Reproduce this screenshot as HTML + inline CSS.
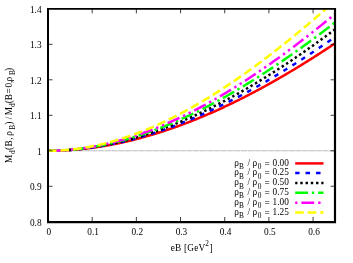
<!DOCTYPE html>
<html><head><meta charset="utf-8"><title>plot</title>
<style>
html,body{margin:0;padding:0;background:#fff;}
body{width:353px;height:263px;overflow:hidden;position:relative;font-family:"Liberation Serif",serif;}
svg{display:block;position:absolute;left:0;top:0;filter:blur(0.35px);}
.t{font-family:"Liberation Serif",serif;font-size:9.3px;fill:#000;}
</style></head><body>
<svg width="353" height="263" viewBox="0 0 353 263">
<rect width="353" height="263" fill="#fff"/>
<clipPath id="c"><rect x="48.0" y="8.83" width="286.9" height="212.94"/></clipPath>
<line x1="48.0" y1="150.79" x2="334.9" y2="150.79" stroke="#969696" stroke-width="0.65" stroke-dasharray="6.3 0.5" stroke-dashoffset="4.4"/>
<g clip-path="url(#c)" fill="none" stroke-linejoin="round" stroke-width="2.5">
<path d="M48.00,150.79L49.10,150.79L50.21,150.78L51.31,150.77L52.42,150.76L53.52,150.74L54.63,150.72L55.73,150.70L56.84,150.67L57.94,150.63L59.05,150.60L60.15,150.56L61.25,150.51L62.36,150.47L63.46,150.42L64.57,150.36L65.67,150.30L66.78,150.24L67.88,150.17L68.99,150.10L70.09,150.03L71.19,149.95L72.30,149.87L73.40,149.79L74.51,149.70L75.61,149.60L76.72,149.51L77.82,149.41L78.93,149.31L80.03,149.20L81.13,149.09L82.24,148.97L83.34,148.86L84.45,148.74L85.55,148.61L86.66,148.48L87.76,148.35L88.87,148.21L89.97,148.08L91.08,147.93L92.18,147.79L93.28,147.64L94.39,147.48L95.49,147.33L96.60,147.17L97.70,147.00L98.81,146.83L99.91,146.66L101.02,146.49L102.12,146.31L103.22,146.13L104.33,145.94L105.43,145.76L106.54,145.56L107.64,145.37L108.75,145.17L109.85,144.97L110.96,144.76L112.06,144.55L113.17,144.34L114.27,144.12L115.37,143.91L116.48,143.68L117.58,143.46L118.69,143.23L119.79,143.00L120.90,142.76L122.00,142.52L123.11,142.28L124.21,142.03L125.31,141.78L126.42,141.53L127.52,141.27L128.63,141.01L129.73,140.75L130.84,140.49L131.94,140.22L133.05,139.94L134.15,139.67L135.26,139.39L136.36,139.11L137.46,138.82L138.57,138.53L139.67,138.24L140.78,137.95L141.88,137.65L142.99,137.35L144.09,137.04L145.20,136.74L146.30,136.42L147.41,136.11L148.51,135.79L149.61,135.47L150.72,135.15L151.82,134.82L152.93,134.49L154.03,134.16L155.14,133.82L156.24,133.49L157.35,133.14L158.45,132.80L159.55,132.45L160.66,132.10L161.76,131.74L162.87,131.39L163.97,131.03L165.08,130.66L166.18,130.30L167.29,129.93L168.39,129.55L169.50,129.18L170.60,128.80L171.70,128.42L172.81,128.03L173.91,127.65L175.02,127.25L176.12,126.86L177.23,126.46L178.33,126.07L179.44,125.66L180.54,125.26L181.64,124.85L182.75,124.44L183.85,124.02L184.96,123.61L186.06,123.19L187.17,122.77L188.27,122.34L189.38,121.91L190.48,121.48L191.59,121.05L192.69,120.61L193.79,120.17L194.90,119.73L196.00,119.28L197.11,118.83L198.21,118.38L199.32,117.93L200.42,117.47L201.53,117.01L202.63,116.55L203.73,116.09L204.84,115.62L205.94,115.15L207.05,114.67L208.15,114.20L209.26,113.72L210.36,113.24L211.47,112.75L212.57,112.27L213.68,111.78L214.78,111.29L215.88,110.79L216.99,110.29L218.09,109.79L219.20,109.29L220.30,108.78L221.41,108.28L222.51,107.77L223.62,107.25L224.72,106.74L225.82,106.22L226.93,105.70L228.03,105.17L229.14,104.65L230.24,104.12L231.35,103.59L232.45,103.05L233.56,102.52L234.66,101.98L235.76,101.44L236.87,100.89L237.97,100.34L239.08,99.80L240.18,99.24L241.29,98.69L242.39,98.13L243.50,97.57L244.60,97.01L245.71,96.45L246.81,95.88L247.91,95.31L249.02,94.74L250.12,94.17L251.23,93.59L252.33,93.01L253.44,92.43L254.54,91.85L255.65,91.26L256.75,90.67L257.86,90.08L258.96,89.49L260.06,88.89L261.17,88.30L262.27,87.70L263.38,87.09L264.48,86.49L265.59,85.88L266.69,85.27L267.80,84.66L268.90,84.05L270.00,83.43L271.11,82.81L272.21,82.19L273.32,81.57L274.42,80.94L275.53,80.31L276.63,79.68L277.74,79.05L278.84,78.42L279.95,77.78L281.05,77.14L282.15,76.50L283.26,75.86L284.36,75.21L285.47,74.57L286.57,73.92L287.68,73.26L288.78,72.61L289.89,71.95L290.99,71.29L292.09,70.63L293.20,69.97L294.30,69.31L295.41,68.64L296.51,67.97L297.62,67.30L298.72,66.63L299.83,65.95L300.93,65.27L302.03,64.59L303.14,63.91L304.24,63.23L305.35,62.54L306.45,61.86L307.56,61.17L308.66,60.47L309.77,59.78L310.87,59.09L311.98,58.39L313.08,57.69L314.18,56.99L315.29,56.28L316.39,55.58L317.50,54.87L318.60,54.16L319.71,53.45L320.81,52.74L321.92,52.02L323.02,51.30L324.12,50.58L325.23,49.86L326.33,49.14L327.44,48.42L328.54,47.69L329.65,46.96L330.75,46.23L331.86,45.50L332.96,44.76L334.07,44.03L335.17,43.29" stroke="#ff0000"/>
<path d="M48.00,150.79L49.10,150.79L50.21,150.78L51.31,150.77L52.42,150.76L53.52,150.74L54.63,150.72L55.73,150.69L56.84,150.66L57.94,150.62L59.05,150.58L60.15,150.54L61.25,150.49L62.36,150.44L63.46,150.39L64.57,150.33L65.67,150.27L66.78,150.20L67.88,150.13L68.99,150.05L70.09,149.97L71.19,149.89L72.30,149.80L73.40,149.71L74.51,149.62L75.61,149.52L76.72,149.41L77.82,149.31L78.93,149.20L80.03,149.08L81.13,148.96L82.24,148.84L83.34,148.72L84.45,148.59L85.55,148.45L86.66,148.31L87.76,148.17L88.87,148.03L89.97,147.88L91.08,147.72L92.18,147.57L93.28,147.41L94.39,147.24L95.49,147.07L96.60,146.90L97.70,146.73L98.81,146.55L99.91,146.36L101.02,146.18L102.12,145.99L103.22,145.79L104.33,145.59L105.43,145.39L106.54,145.19L107.64,144.98L108.75,144.76L109.85,144.55L110.96,144.33L112.06,144.10L113.17,143.88L114.27,143.65L115.37,143.41L116.48,143.17L117.58,142.93L118.69,142.69L119.79,142.44L120.90,142.18L122.00,141.93L123.11,141.67L124.21,141.41L125.31,141.14L126.42,140.87L127.52,140.60L128.63,140.32L129.73,140.04L130.84,139.75L131.94,139.47L133.05,139.17L134.15,138.88L135.26,138.58L136.36,138.28L137.46,137.98L138.57,137.67L139.67,137.36L140.78,137.04L141.88,136.72L142.99,136.40L144.09,136.07L145.20,135.75L146.30,135.41L147.41,135.08L148.51,134.74L149.61,134.40L150.72,134.05L151.82,133.70L152.93,133.35L154.03,133.00L155.14,132.64L156.24,132.28L157.35,131.91L158.45,131.54L159.55,131.17L160.66,130.80L161.76,130.42L162.87,130.04L163.97,129.65L165.08,129.26L166.18,128.87L167.29,128.48L168.39,128.08L169.50,127.68L170.60,127.28L171.70,126.87L172.81,126.46L173.91,126.05L175.02,125.63L176.12,125.21L177.23,124.79L178.33,124.36L179.44,123.93L180.54,123.50L181.64,123.07L182.75,122.63L183.85,122.19L184.96,121.75L186.06,121.30L187.17,120.85L188.27,120.39L189.38,119.94L190.48,119.48L191.59,119.02L192.69,118.55L193.79,118.08L194.90,117.61L196.00,117.14L197.11,116.66L198.21,116.18L199.32,115.70L200.42,115.21L201.53,114.73L202.63,114.23L203.73,113.74L204.84,113.24L205.94,112.74L207.05,112.24L208.15,111.73L209.26,111.22L210.36,110.71L211.47,110.20L212.57,109.68L213.68,109.16L214.78,108.64L215.88,108.11L216.99,107.58L218.09,107.05L219.20,106.52L220.30,105.98L221.41,105.44L222.51,104.90L223.62,104.35L224.72,103.81L225.82,103.26L226.93,102.70L228.03,102.15L229.14,101.59L230.24,101.03L231.35,100.46L232.45,99.90L233.56,99.33L234.66,98.76L235.76,98.18L236.87,97.60L237.97,97.02L239.08,96.44L240.18,95.86L241.29,95.27L242.39,94.68L243.50,94.09L244.60,93.49L245.71,92.89L246.81,92.29L247.91,91.69L249.02,91.09L250.12,90.48L251.23,89.87L252.33,89.25L253.44,88.64L254.54,88.02L255.65,87.40L256.75,86.78L257.86,86.15L258.96,85.52L260.06,84.89L261.17,84.26L262.27,83.63L263.38,82.99L264.48,82.35L265.59,81.71L266.69,81.06L267.80,80.42L268.90,79.77L270.00,79.11L271.11,78.46L272.21,77.80L273.32,77.14L274.42,76.48L275.53,75.82L276.63,75.15L277.74,74.49L278.84,73.82L279.95,73.14L281.05,72.47L282.15,71.79L283.26,71.11L284.36,70.43L285.47,69.75L286.57,69.06L287.68,68.37L288.78,67.68L289.89,66.99L290.99,66.29L292.09,65.60L293.20,64.90L294.30,64.20L295.41,63.49L296.51,62.79L297.62,62.08L298.72,61.37L299.83,60.66L300.93,59.94L302.03,59.23L303.14,58.51L304.24,57.79L305.35,57.07L306.45,56.34L307.56,55.62L308.66,54.89L309.77,54.16L310.87,53.42L311.98,52.69L313.08,51.95L314.18,51.21L315.29,50.47L316.39,49.73L317.50,48.98L318.60,48.24L319.71,47.49L320.81,46.74L321.92,45.99L323.02,45.23L324.12,44.48L325.23,43.72L326.33,42.96L327.44,42.20L328.54,41.43L329.65,40.67L330.75,39.90L331.86,39.13L332.96,38.36L334.07,37.58L335.17,36.81" stroke="#0000ff" stroke-dasharray="4.5 6.0" stroke-dashoffset="0.15"/>
<path d="M48.00,150.79L49.10,150.79L50.21,150.78L51.31,150.77L52.42,150.75L53.52,150.74L54.63,150.71L55.73,150.68L56.84,150.65L57.94,150.61L59.05,150.57L60.15,150.53L61.25,150.48L62.36,150.42L63.46,150.36L64.57,150.30L65.67,150.23L66.78,150.16L67.88,150.09L68.99,150.01L70.09,149.92L71.19,149.83L72.30,149.74L73.40,149.64L74.51,149.54L75.61,149.44L76.72,149.33L77.82,149.21L78.93,149.10L80.03,148.98L81.13,148.85L82.24,148.72L83.34,148.59L84.45,148.45L85.55,148.30L86.66,148.16L87.76,148.01L88.87,147.85L89.97,147.69L91.08,147.53L92.18,147.37L93.28,147.19L94.39,147.02L95.49,146.84L96.60,146.66L97.70,146.47L98.81,146.28L99.91,146.09L101.02,145.89L102.12,145.68L103.22,145.48L104.33,145.27L105.43,145.05L106.54,144.83L107.64,144.61L108.75,144.39L109.85,144.16L110.96,143.92L112.06,143.68L113.17,143.44L114.27,143.20L115.37,142.95L116.48,142.69L117.58,142.44L118.69,142.18L119.79,141.91L120.90,141.64L122.00,141.37L123.11,141.09L124.21,140.81L125.31,140.53L126.42,140.24L127.52,139.95L128.63,139.66L129.73,139.36L130.84,139.06L131.94,138.75L133.05,138.44L134.15,138.13L135.26,137.81L136.36,137.49L137.46,137.17L138.57,136.84L139.67,136.51L140.78,136.17L141.88,135.83L142.99,135.49L144.09,135.14L145.20,134.79L146.30,134.44L147.41,134.08L148.51,133.72L149.61,133.36L150.72,132.99L151.82,132.62L152.93,132.25L154.03,131.87L155.14,131.49L156.24,131.10L157.35,130.71L158.45,130.32L159.55,129.93L160.66,129.53L161.76,129.12L162.87,128.72L163.97,128.31L165.08,127.90L166.18,127.48L167.29,127.06L168.39,126.64L169.50,126.21L170.60,125.78L171.70,125.35L172.81,124.91L173.91,124.47L175.02,124.03L176.12,123.58L177.23,123.13L178.33,122.68L179.44,122.22L180.54,121.76L181.64,121.30L182.75,120.83L183.85,120.36L184.96,119.89L186.06,119.41L187.17,118.94L188.27,118.45L189.38,117.97L190.48,117.48L191.59,116.99L192.69,116.49L193.79,115.99L194.90,115.49L196.00,114.99L197.11,114.48L198.21,113.97L199.32,113.45L200.42,112.93L201.53,112.41L202.63,111.89L203.73,111.36L204.84,110.83L205.94,110.30L207.05,109.76L208.15,109.23L209.26,108.68L210.36,108.14L211.47,107.59L212.57,107.04L213.68,106.48L214.78,105.93L215.88,105.37L216.99,104.80L218.09,104.24L219.20,103.67L220.30,103.10L221.41,102.52L222.51,101.94L223.62,101.36L224.72,100.78L225.82,100.19L226.93,99.60L228.03,99.01L229.14,98.41L230.24,97.82L231.35,97.22L232.45,96.61L233.56,96.00L234.66,95.39L235.76,94.78L236.87,94.17L237.97,93.55L239.08,92.93L240.18,92.30L241.29,91.68L242.39,91.05L243.50,90.42L244.60,89.78L245.71,89.14L246.81,88.50L247.91,87.86L249.02,87.22L250.12,86.57L251.23,85.92L252.33,85.26L253.44,84.61L254.54,83.95L255.65,83.28L256.75,82.62L257.86,81.95L258.96,81.28L260.06,80.61L261.17,79.94L262.27,79.26L263.38,78.58L264.48,77.90L265.59,77.21L266.69,76.52L267.80,75.83L268.90,75.14L270.00,74.44L271.11,73.75L272.21,73.04L273.32,72.34L274.42,71.64L275.53,70.93L276.63,70.22L277.74,69.50L278.84,68.79L279.95,68.07L281.05,67.35L282.15,66.63L283.26,65.90L284.36,65.17L285.47,64.44L286.57,63.71L287.68,62.98L288.78,62.24L289.89,61.50L290.99,60.76L292.09,60.01L293.20,59.27L294.30,58.52L295.41,57.77L296.51,57.01L297.62,56.26L298.72,55.50L299.83,54.74L300.93,53.98L302.03,53.21L303.14,52.44L304.24,51.67L305.35,50.90L306.45,50.13L307.56,49.35L308.66,48.57L309.77,47.79L310.87,47.01L311.98,46.23L313.08,45.44L314.18,44.65L315.29,43.86L316.39,43.06L317.50,42.27L318.60,41.47L319.71,40.67L320.81,39.87L321.92,39.06L323.02,38.26L324.12,37.45L325.23,36.64L326.33,35.83L327.44,35.01L328.54,34.19L329.65,33.38L330.75,32.56L331.86,31.73L332.96,30.91L334.07,30.08L335.17,29.25" stroke="#000000" stroke-dasharray="2.4 2.85" stroke-dashoffset="0.15"/>
<path d="M48.00,150.79L49.10,150.79L50.21,150.78L51.31,150.77L52.42,150.75L53.52,150.73L54.63,150.70L55.73,150.67L56.84,150.64L57.94,150.60L59.05,150.55L60.15,150.50L61.25,150.45L62.36,150.39L63.46,150.32L64.57,150.25L65.67,150.18L66.78,150.10L67.88,150.02L68.99,149.93L70.09,149.84L71.19,149.74L72.30,149.64L73.40,149.54L74.51,149.43L75.61,149.31L76.72,149.19L77.82,149.07L78.93,148.94L80.03,148.81L81.13,148.67L82.24,148.53L83.34,148.38L84.45,148.23L85.55,148.08L86.66,147.92L87.76,147.75L88.87,147.59L89.97,147.41L91.08,147.24L92.18,147.06L93.28,146.87L94.39,146.68L95.49,146.48L96.60,146.29L97.70,146.08L98.81,145.88L99.91,145.66L101.02,145.45L102.12,145.23L103.22,145.00L104.33,144.77L105.43,144.54L106.54,144.30L107.64,144.06L108.75,143.82L109.85,143.57L110.96,143.31L112.06,143.06L113.17,142.79L114.27,142.53L115.37,142.26L116.48,141.98L117.58,141.71L118.69,141.42L119.79,141.14L120.90,140.85L122.00,140.55L123.11,140.25L124.21,139.95L125.31,139.64L126.42,139.33L127.52,139.02L128.63,138.70L129.73,138.37L130.84,138.05L131.94,137.72L133.05,137.38L134.15,137.04L135.26,136.70L136.36,136.36L137.46,136.01L138.57,135.65L139.67,135.29L140.78,134.93L141.88,134.57L142.99,134.20L144.09,133.82L145.20,133.45L146.30,133.07L147.41,132.68L148.51,132.29L149.61,131.90L150.72,131.51L151.82,131.11L152.93,130.70L154.03,130.30L155.14,129.88L156.24,129.47L157.35,129.05L158.45,128.63L159.55,128.21L160.66,127.78L161.76,127.34L162.87,126.91L163.97,126.47L165.08,126.03L166.18,125.58L167.29,125.13L168.39,124.67L169.50,124.22L170.60,123.76L171.70,123.29L172.81,122.82L173.91,122.35L175.02,121.88L176.12,121.40L177.23,120.92L178.33,120.43L179.44,119.94L180.54,119.45L181.64,118.95L182.75,118.45L183.85,117.95L184.96,117.45L186.06,116.94L187.17,116.43L188.27,115.91L189.38,115.39L190.48,114.87L191.59,114.34L192.69,113.81L193.79,113.28L194.90,112.75L196.00,112.21L197.11,111.66L198.21,111.12L199.32,110.57L200.42,110.02L201.53,109.46L202.63,108.91L203.73,108.34L204.84,107.78L205.94,107.21L207.05,106.64L208.15,106.07L209.26,105.49L210.36,104.91L211.47,104.33L212.57,103.74L213.68,103.15L214.78,102.56L215.88,101.97L216.99,101.37L218.09,100.77L219.20,100.16L220.30,99.55L221.41,98.94L222.51,98.33L223.62,97.71L224.72,97.10L225.82,96.47L226.93,95.85L228.03,95.22L229.14,94.59L230.24,93.96L231.35,93.32L232.45,92.68L233.56,92.04L234.66,91.39L235.76,90.74L236.87,90.09L237.97,89.44L239.08,88.78L240.18,88.12L241.29,87.46L242.39,86.80L243.50,86.13L244.60,85.46L245.71,84.79L246.81,84.11L247.91,83.43L249.02,82.75L250.12,82.07L251.23,81.38L252.33,80.69L253.44,80.00L254.54,79.31L255.65,78.61L256.75,77.91L257.86,77.21L258.96,76.51L260.06,75.80L261.17,75.09L262.27,74.38L263.38,73.66L264.48,72.94L265.59,72.22L266.69,71.50L267.80,70.78L268.90,70.05L270.00,69.32L271.11,68.59L272.21,67.85L273.32,67.12L274.42,66.38L275.53,65.64L276.63,64.89L277.74,64.15L278.84,63.40L279.95,62.65L281.05,61.89L282.15,61.14L283.26,60.38L284.36,59.62L285.47,58.85L286.57,58.09L287.68,57.32L288.78,56.55L289.89,55.78L290.99,55.01L292.09,54.23L293.20,53.45L294.30,52.67L295.41,51.89L296.51,51.10L297.62,50.32L298.72,49.53L299.83,48.73L300.93,47.94L302.03,47.14L303.14,46.35L304.24,45.55L305.35,44.74L306.45,43.94L307.56,43.13L308.66,42.33L309.77,41.52L310.87,40.70L311.98,39.89L313.08,39.07L314.18,38.25L315.29,37.43L316.39,36.61L317.50,35.79L318.60,34.96L319.71,34.13L320.81,33.30L321.92,32.47L323.02,31.64L324.12,30.80L325.23,29.97L326.33,29.13L327.44,28.29L328.54,27.44L329.65,26.60L330.75,25.75L331.86,24.90L332.96,24.05L334.07,23.20L335.17,22.35" stroke="#00ff00" stroke-dasharray="12.9 3.9 2.4 3.9" stroke-dashoffset="0.15"/>
<path d="M48.00,150.79L49.10,150.79L50.21,150.78L51.31,150.77L52.42,150.75L53.52,150.73L54.63,150.70L55.73,150.66L56.84,150.63L57.94,150.58L59.05,150.53L60.15,150.48L61.25,150.42L62.36,150.36L63.46,150.29L64.57,150.22L65.67,150.14L66.78,150.06L67.88,149.97L68.99,149.87L70.09,149.78L71.19,149.67L72.30,149.57L73.40,149.45L74.51,149.34L75.61,149.21L76.72,149.09L77.82,148.95L78.93,148.82L80.03,148.68L81.13,148.53L82.24,148.38L83.34,148.22L84.45,148.06L85.55,147.90L86.66,147.73L87.76,147.55L88.87,147.37L89.97,147.19L91.08,147.00L92.18,146.80L93.28,146.61L94.39,146.40L95.49,146.20L96.60,145.98L97.70,145.77L98.81,145.55L99.91,145.32L101.02,145.09L102.12,144.85L103.22,144.61L104.33,144.37L105.43,144.12L106.54,143.87L107.64,143.61L108.75,143.35L109.85,143.08L110.96,142.81L112.06,142.54L113.17,142.26L114.27,141.97L115.37,141.69L116.48,141.39L117.58,141.10L118.69,140.79L119.79,140.49L120.90,140.18L122.00,139.86L123.11,139.54L124.21,139.22L125.31,138.89L126.42,138.56L127.52,138.23L128.63,137.89L129.73,137.54L130.84,137.19L131.94,136.84L133.05,136.48L134.15,136.12L135.26,135.76L136.36,135.39L137.46,135.02L138.57,134.64L139.67,134.26L140.78,133.87L141.88,133.48L142.99,133.09L144.09,132.69L145.20,132.29L146.30,131.88L147.41,131.47L148.51,131.06L149.61,130.64L150.72,130.22L151.82,129.79L152.93,129.36L154.03,128.93L155.14,128.49L156.24,128.05L157.35,127.60L158.45,127.15L159.55,126.70L160.66,126.24L161.76,125.78L162.87,125.31L163.97,124.84L165.08,124.37L166.18,123.90L167.29,123.41L168.39,122.93L169.50,122.44L170.60,121.95L171.70,121.46L172.81,120.96L173.91,120.45L175.02,119.95L176.12,119.44L177.23,118.92L178.33,118.41L179.44,117.89L180.54,117.36L181.64,116.83L182.75,116.30L183.85,115.76L184.96,115.23L186.06,114.68L187.17,114.14L188.27,113.59L189.38,113.03L190.48,112.48L191.59,111.92L192.69,111.35L193.79,110.78L194.90,110.21L196.00,109.64L197.11,109.06L198.21,108.48L199.32,107.90L200.42,107.31L201.53,106.72L202.63,106.12L203.73,105.52L204.84,104.92L205.94,104.32L207.05,103.71L208.15,103.10L209.26,102.48L210.36,101.86L211.47,101.24L212.57,100.62L213.68,99.99L214.78,99.36L215.88,98.72L216.99,98.09L218.09,97.45L219.20,96.80L220.30,96.15L221.41,95.50L222.51,94.85L223.62,94.19L224.72,93.53L225.82,92.87L226.93,92.21L228.03,91.54L229.14,90.86L230.24,90.19L231.35,89.51L232.45,88.83L233.56,88.15L234.66,87.46L235.76,86.77L236.87,86.07L237.97,85.38L239.08,84.68L240.18,83.98L241.29,83.27L242.39,82.56L243.50,81.85L244.60,81.14L245.71,80.42L246.81,79.70L247.91,78.98L249.02,78.25L250.12,77.53L251.23,76.80L252.33,76.06L253.44,75.33L254.54,74.59L255.65,73.84L256.75,73.10L257.86,72.35L258.96,71.60L260.06,70.85L261.17,70.09L262.27,69.33L263.38,68.57L264.48,67.81L265.59,67.04L266.69,66.27L267.80,65.50L268.90,64.73L270.00,63.95L271.11,63.17L272.21,62.39L273.32,61.60L274.42,60.82L275.53,60.03L276.63,59.23L277.74,58.44L278.84,57.64L279.95,56.84L281.05,56.04L282.15,55.23L283.26,54.43L284.36,53.62L285.47,52.81L286.57,51.99L287.68,51.17L288.78,50.36L289.89,49.53L290.99,48.71L292.09,47.88L293.20,47.05L294.30,46.22L295.41,45.39L296.51,44.55L297.62,43.72L298.72,42.88L299.83,42.03L300.93,41.19L302.03,40.34L303.14,39.49L304.24,38.64L305.35,37.79L306.45,36.93L307.56,36.07L308.66,35.21L309.77,34.35L310.87,33.49L311.98,32.62L313.08,31.75L314.18,30.88L315.29,30.01L316.39,29.13L317.50,28.26L318.60,27.38L319.71,26.50L320.81,25.61L321.92,24.73L323.02,23.84L324.12,22.95L325.23,22.06L326.33,21.17L327.44,20.27L328.54,19.38L329.65,18.48L330.75,17.58L331.86,16.68L332.96,15.77L334.07,14.87L335.17,13.96" stroke="#ff00ff" stroke-dasharray="2.4 3.9 12.9 3.9 2.4 3.9" stroke-dashoffset="0.15"/>
<path d="M48.00,150.79L49.10,150.79L50.21,150.78L51.31,150.76L52.42,150.74L53.52,150.72L54.63,150.69L55.73,150.65L56.84,150.61L57.94,150.56L59.05,150.50L60.15,150.44L61.25,150.38L62.36,150.31L63.46,150.23L64.57,150.15L65.67,150.06L66.78,149.97L67.88,149.87L68.99,149.76L70.09,149.65L71.19,149.54L72.30,149.42L73.40,149.29L74.51,149.16L75.61,149.02L76.72,148.88L77.82,148.73L78.93,148.58L80.03,148.42L81.13,148.25L82.24,148.08L83.34,147.91L84.45,147.73L85.55,147.54L86.66,147.35L87.76,147.16L88.87,146.96L89.97,146.75L91.08,146.54L92.18,146.32L93.28,146.10L94.39,145.87L95.49,145.64L96.60,145.40L97.70,145.16L98.81,144.91L99.91,144.66L101.02,144.40L102.12,144.14L103.22,143.87L104.33,143.60L105.43,143.32L106.54,143.04L107.64,142.75L108.75,142.46L109.85,142.16L110.96,141.86L112.06,141.55L113.17,141.24L114.27,140.93L115.37,140.60L116.48,140.28L117.58,139.95L118.69,139.61L119.79,139.27L120.90,138.92L122.00,138.57L123.11,138.22L124.21,137.86L125.31,137.49L126.42,137.12L127.52,136.75L128.63,136.37L129.73,135.99L130.84,135.60L131.94,135.20L133.05,134.81L134.15,134.40L135.26,134.00L136.36,133.59L137.46,133.17L138.57,132.75L139.67,132.33L140.78,131.90L141.88,131.46L142.99,131.03L144.09,130.58L145.20,130.14L146.30,129.69L147.41,129.23L148.51,128.77L149.61,128.30L150.72,127.84L151.82,127.36L152.93,126.89L154.03,126.40L155.14,125.92L156.24,125.43L157.35,124.93L158.45,124.43L159.55,123.93L160.66,123.42L161.76,122.91L162.87,122.40L163.97,121.88L165.08,121.35L166.18,120.82L167.29,120.29L168.39,119.75L169.50,119.21L170.60,118.67L171.70,118.12L172.81,117.57L173.91,117.01L175.02,116.45L176.12,115.89L177.23,115.32L178.33,114.75L179.44,114.17L180.54,113.59L181.64,113.00L182.75,112.42L183.85,111.82L184.96,111.23L186.06,110.63L187.17,110.02L188.27,109.42L189.38,108.81L190.48,108.19L191.59,107.57L192.69,106.95L193.79,106.32L194.90,105.69L196.00,105.06L197.11,104.42L198.21,103.78L199.32,103.13L200.42,102.49L201.53,101.83L202.63,101.18L203.73,100.52L204.84,99.86L205.94,99.19L207.05,98.52L208.15,97.85L209.26,97.17L210.36,96.49L211.47,95.80L212.57,95.12L213.68,94.43L214.78,93.73L215.88,93.03L216.99,92.33L218.09,91.63L219.20,90.92L220.30,90.21L221.41,89.49L222.51,88.77L223.62,88.05L224.72,87.33L225.82,86.60L226.93,85.87L228.03,85.13L229.14,84.40L230.24,83.66L231.35,82.91L232.45,82.16L233.56,81.41L234.66,80.66L235.76,79.90L236.87,79.14L237.97,78.38L239.08,77.61L240.18,76.84L241.29,76.07L242.39,75.30L243.50,74.52L244.60,73.74L245.71,72.95L246.81,72.16L247.91,71.37L249.02,70.58L250.12,69.78L251.23,68.98L252.33,68.18L253.44,67.38L254.54,66.57L255.65,65.76L256.75,64.94L257.86,64.13L258.96,63.31L260.06,62.49L261.17,61.66L262.27,60.83L263.38,60.00L264.48,59.17L265.59,58.33L266.69,57.50L267.80,56.65L268.90,55.81L270.00,54.96L271.11,54.11L272.21,53.26L273.32,52.41L274.42,51.55L275.53,50.69L276.63,49.83L277.74,48.96L278.84,48.10L279.95,47.23L281.05,46.35L282.15,45.48L283.26,44.60L284.36,43.72L285.47,42.84L286.57,41.95L287.68,41.07L288.78,40.18L289.89,39.29L290.99,38.39L292.09,37.50L293.20,36.60L294.30,35.70L295.41,34.79L296.51,33.89L297.62,32.98L298.72,32.07L299.83,31.16L300.93,30.24L302.03,29.32L303.14,28.40L304.24,27.48L305.35,26.56L306.45,25.63L307.56,24.71L308.66,23.78L309.77,22.84L310.87,21.91L311.98,20.97L313.08,20.04L314.18,19.10L315.29,18.15L316.39,17.21L317.50,16.26L318.60,15.32L319.71,14.37L320.81,13.41L321.92,12.46L323.02,11.50L324.12,10.55L325.23,9.59L326.33,8.62L327.44,7.66L328.54,6.70L329.65,5.73L330.75,4.76L331.86,3.79L332.96,2.82L334.07,1.84L335.17,0.87" stroke="#ffff00" stroke-dasharray="8.7 3.9" stroke-dashoffset="0.15"/>
</g>
<g stroke="#000" stroke-width="0.75">
<path d="M92.18 221.77v-4.8M92.18 8.83v4.5"/>
<path d="M136.36 221.77v-4.8M136.36 8.83v4.5"/>
<path d="M180.54 221.77v-4.8M180.54 8.83v4.5"/>
<path d="M224.72 221.77v-4.8M224.72 8.83v4.5"/>
<path d="M268.90 221.77v-4.8M268.90 8.83v4.5"/>
<path d="M313.08 221.77v-4.8M313.08 8.83v4.5"/>
<path d="M48.0 186.28h4.5M334.9 186.28h-4.3"/>
<path d="M48.0 150.79h4.5M334.9 150.79h-4.3"/>
<path d="M48.0 115.30h4.5M334.9 115.30h-4.3"/>
<path d="M48.0 79.81h4.5M334.9 79.81h-4.3"/>
<path d="M48.0 44.32h4.5M334.9 44.32h-4.3"/>
</g>
<path fill="#000" d="M47 7.95H336.08V223.15H47Z M49 9.85V221H333.92V9.85Z" fill-rule="evenodd"/>
<g class="t">
<text x="48.90" y="235.2" text-anchor="middle">0</text>
<text x="93.08" y="235.2" text-anchor="middle">0.1</text>
<text x="137.26" y="235.2" text-anchor="middle">0.2</text>
<text x="181.44" y="235.2" text-anchor="middle">0.3</text>
<text x="225.62" y="235.2" text-anchor="middle">0.4</text>
<text x="269.80" y="235.2" text-anchor="middle">0.5</text>
<text x="313.98" y="235.2" text-anchor="middle">0.6</text>
<text x="41.6" y="225.57" text-anchor="end">0.8</text>
<text x="41.6" y="190.08" text-anchor="end">0.9</text>
<text x="41.6" y="154.59" text-anchor="end">1</text>
<text x="41.6" y="119.10" text-anchor="end">1.1</text>
<text x="41.6" y="83.61" text-anchor="end">1.2</text>
<text x="41.6" y="48.12" text-anchor="end">1.3</text>
<text x="41.6" y="12.63" text-anchor="end">1.4</text>
<text y="250.9"><tspan x="170.7" textLength="34.6" lengthAdjust="spacing">eB [GeV</tspan><tspan x="205.3" dy="-4.6" font-size="7.3">2</tspan><tspan x="209.4" dy="4.6">]</tspan></text>
<text transform="translate(11.6,162.9) rotate(-90)"><tspan x="0.0" y="0">M</tspan><tspan x="9.0" y="3.8" font-size="7.3">d</tspan><tspan x="13.0" y="0">(</tspan><tspan x="16.4" y="0">B</tspan><tspan x="23.1" y="0">,</tspan><tspan x="27.1" y="0">ρ</tspan><tspan x="33.2" y="3.8" font-size="7.3">B</tspan><tspan x="38.2" y="0">)</tspan><tspan x="43.7" y="0">/</tspan><tspan x="47.6" y="0">M</tspan><tspan x="56.0" y="3.8" font-size="7.3">d</tspan><tspan x="59.6" y="0">(</tspan><tspan x="62.6" y="0">B</tspan><tspan x="69.4" y="0">=</tspan><tspan x="75.4" y="0">0</tspan><tspan x="79.8" y="0">,</tspan><tspan x="81.5" y="0">ρ</tspan><tspan x="87.8" y="3.8" font-size="7.3">B</tspan><tspan x="91.8" y="0">)</tspan></text>
<text y="165.70"><tspan x="234.3">ρ</tspan><tspan x="239.0" dy="3.3" font-size="7.3">B</tspan><tspan x="247.4" dy="-3.3">/</tspan><tspan x="252.4">ρ</tspan><tspan x="257.8" dy="3.3" font-size="7.3">0</tspan><tspan x="264.5" dy="-2.30">=</tspan><tspan x="288.9" dy="-1.0" text-anchor="end">0.00</tspan></text>
<text y="175.40"><tspan x="234.3">ρ</tspan><tspan x="239.0" dy="3.3" font-size="7.3">B</tspan><tspan x="247.4" dy="-3.3">/</tspan><tspan x="252.4">ρ</tspan><tspan x="257.8" dy="3.3" font-size="7.3">0</tspan><tspan x="264.5" dy="-2.30">=</tspan><tspan x="288.9" dy="-1.0" text-anchor="end">0.25</tspan></text>
<text y="185.30"><tspan x="234.3">ρ</tspan><tspan x="239.0" dy="3.3" font-size="7.3">B</tspan><tspan x="247.4" dy="-3.3">/</tspan><tspan x="252.4">ρ</tspan><tspan x="257.8" dy="3.3" font-size="7.3">0</tspan><tspan x="264.5" dy="-2.30">=</tspan><tspan x="288.9" dy="-1.0" text-anchor="end">0.50</tspan></text>
<text y="195.10"><tspan x="234.3">ρ</tspan><tspan x="239.0" dy="3.3" font-size="7.3">B</tspan><tspan x="247.4" dy="-3.3">/</tspan><tspan x="252.4">ρ</tspan><tspan x="257.8" dy="3.3" font-size="7.3">0</tspan><tspan x="264.5" dy="-2.30">=</tspan><tspan x="288.9" dy="-1.0" text-anchor="end">0.75</tspan></text>
<text y="205.00"><tspan x="234.3">ρ</tspan><tspan x="239.0" dy="3.3" font-size="7.3">B</tspan><tspan x="247.4" dy="-3.3">/</tspan><tspan x="252.4">ρ</tspan><tspan x="257.8" dy="3.3" font-size="7.3">0</tspan><tspan x="264.5" dy="-2.30">=</tspan><tspan x="288.9" dy="-1.0" text-anchor="end">1.00</tspan></text>
<text y="214.70"><tspan x="234.3">ρ</tspan><tspan x="239.0" dy="3.3" font-size="7.3">B</tspan><tspan x="247.4" dy="-3.3">/</tspan><tspan x="252.4">ρ</tspan><tspan x="257.8" dy="3.3" font-size="7.3">0</tspan><tspan x="264.5" dy="-2.30">=</tspan><tspan x="288.9" dy="-1.0" text-anchor="end">1.25</tspan></text>
</g>
<g stroke-width="2.5">
<line x1="295.2" y1="163.4" x2="323.5" y2="163.4" stroke="#ff0000"/>
<line x1="295.2" y1="173.1" x2="323.5" y2="173.1" stroke="#0000ff" stroke-dasharray="4.5 6.0" stroke-dashoffset="0.15"/>
<line x1="295.2" y1="183.0" x2="323.5" y2="183.0" stroke="#000000" stroke-dasharray="2.4 2.85" stroke-dashoffset="0.15"/>
<line x1="295.2" y1="192.8" x2="323.5" y2="192.8" stroke="#00ff00" stroke-dasharray="12.9 3.9 2.4 3.9" stroke-dashoffset="0.15"/>
<line x1="295.2" y1="202.7" x2="323.5" y2="202.7" stroke="#ff00ff" stroke-dasharray="2.4 3.9 12.9 3.9 2.4 3.9" stroke-dashoffset="0.15"/>
<line x1="295.2" y1="212.4" x2="323.5" y2="212.4" stroke="#ffff00" stroke-dasharray="8.7 3.9" stroke-dashoffset="0.15"/>
</g>
</svg>
</body></html>
